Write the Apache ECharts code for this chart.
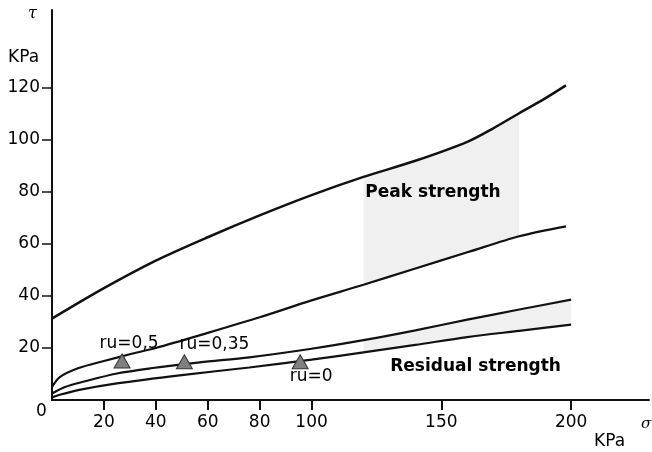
<!DOCTYPE html>
<html>
<head>
<meta charset="utf-8">
<script src="https://cdn.jsdelivr.net/npm/echarts@6/dist/echarts.min.js"></script>
<style>
html,body{margin:0;padding:0;background:#fff;}
#chart{width:652px;height:452px;}
</style>
</head>
<body>
<div id="chart"></div>
<script>
// ---- data ----
const xTickValues = [20, 40, 60, 80, 100, 150, 200];
const yTickValues = [20, 40, 60, 80, 100, 120];

const peakUpperX = [0, 20, 40, 60, 80, 100, 120, 140, 160, 170, 180, 190, 198];
const peakUpperY = [31.3, 43, 53.6, 62.6, 71, 78.8, 85.8, 92, 99.3, 104.5, 110.3, 116, 121];

const peakLowerX = [0, 3, 10, 20, 30, 40, 60, 80, 100, 120, 140, 160, 180, 198];
const peakLowerY = [5, 8.8, 12.2, 15, 17.6, 20, 25.8, 31.8, 38.3, 44.3, 50.6, 56.8, 63, 66.8];

const resUpperX = [0, 5, 12, 25, 38, 57, 76, 100, 120, 140, 160, 180, 200];
const resUpperY = [2.5, 5, 7, 10.2, 12.2, 14.5, 16.4, 19.7, 23, 26.8, 30.9, 34.8, 38.6];

const resLowerX = [0, 3, 10, 25, 50, 76, 100, 120, 140, 160, 180, 200];
const resLowerY = [1, 2, 3.8, 6.4, 9.6, 12.5, 15.5, 18.3, 21.2, 24.2, 26.6, 29];

const triX = [27, 51, 95.6];
const triY = [15, 14.7, 14.7];
const triLabels = ['ru=0,5', 'ru=0,35', 'ru=0'];

const bandLabels = ['Peak strength', 'Residual strength'];
const bandLabelX = [146.8, 163.2];
const bandLabelY = [79.8, 12.7];

// ---- chart ----
const pairs = (xs, ys) => xs.map((x, i) => [x, ys[i]]);
const INK = '#000';

function bandSeries(upX, upY, loX, loY, from, to) {
  return {
    type: 'custom',
    coordinateSystem: 'cartesian2d',
    silent: true,
    z: 1,
    data: [[from, 0]],
    renderItem: function (params, api) {
      const pts = [];
      upX.forEach((x, i) => { if (x >= from && x <= to) pts.push(api.coord([x, upY[i]])); });
      for (let i = loX.length - 1; i >= 0; i--) {
        if (loX[i] >= from && loX[i] <= to) pts.push(api.coord([loX[i], loY[i]]));
      }
      return { type: 'polygon', shape: { points: pts }, style: { fill: 'rgba(0,0,0,0.06)' } };
    }
  };
}

function curve(xs, ys, w) {
  return {
    type: 'line', data: pairs(xs, ys), showSymbol: false, smooth: 0.3, z: 3,
    lineStyle: { color: '#111', width: w }, silent: true
  };
}

const labelOffsets = [[7, -17], [30, -17], [11, 15]];

const option = {
  animation: false,
  backgroundColor: '#fff',
  grid: { left: 52, right: 3, top: 10, bottom: 52 },
  xAxis: {
    type: 'value', min: 0, max: 230,
    splitLine: { show: false },
    axisLine: { onZero: false, lineStyle: { color: '#111', width: 2 } },
    axisTick: { customValues: xTickValues, length: 10, lineStyle: { color: '#111', width: 2 } },
    axisLabel: { customValues: xTickValues, margin: 14, color: INK, fontSize: 17, fontFamily: 'DejaVu Sans' }
  },
  yAxis: {
    type: 'value', min: 0, max: 150,
    splitLine: { show: false },
    axisLine: { onZero: false, lineStyle: { color: '#111', width: 2 } },
    axisTick: { customValues: yTickValues, length: 10, lineStyle: { color: '#111', width: 1.5 } },
    axisLabel: { customValues: yTickValues, margin: 12, color: INK, fontSize: 17, fontFamily: 'DejaVu Sans' }
  },
  graphic: [
    { type: 'text', left: 28, top: 6, style: { text: 'τ', font: 'italic 16px DejaVu Serif', fill: INK } },
    { type: 'text', left: 8, top: 49, style: { text: 'KPa', font: '17px DejaVu Sans', fill: INK } },
    { type: 'text', left: 36, top: 403, style: { text: '0', font: '17px DejaVu Sans', fill: INK } },
    { type: 'text', left: 594, top: 433, style: { text: 'KPa', font: '17px DejaVu Sans', fill: INK } },
    { type: 'text', left: 641, top: 417, style: { text: 'σ', font: 'italic 15px DejaVu Serif', fill: INK } }
  ],
  series: [
    bandSeries(peakUpperX, peakUpperY, peakLowerX, peakLowerY, 120, 180),
    bandSeries(resUpperX, resUpperY, resLowerX, resLowerY, 120, 200),
    curve(peakUpperX, peakUpperY, 2.5),
    curve(peakLowerX, peakLowerY, 2.2),
    curve(resUpperX, resUpperY, 2.2),
    curve(resLowerX, resLowerY, 2.2),
    {
      type: 'scatter', z: 5, silent: true,
      symbol: 'triangle', symbolSize: [16, 14],
      itemStyle: { color: '#808080', borderColor: '#333', borderWidth: 1, opacity: 1 },
      data: triX.map((x, i) => ({
        value: [x, triY[i]],
        label: { show: true, position: 'inside', offset: labelOffsets[i], formatter: triLabels[i],
                 color: INK, fontSize: 17, fontFamily: 'DejaVu Sans', opacity: 1 }
      }))
    },
    {
      type: 'scatter', z: 5, silent: true, symbolSize: 0,
      data: bandLabelX.map((x, i) => [x, bandLabelY[i]]),
      label: { show: true, position: 'inside', formatter: p => bandLabels[p.dataIndex],
               color: INK, opacity: 1, fontSize: 17, fontWeight: 'bold', fontFamily: 'DejaVu Sans' }
    }
  ]
};

const chart = echarts.init(document.getElementById('chart'), null, { renderer: 'canvas' });
chart.setOption(option);
</script>
</body>
</html>
